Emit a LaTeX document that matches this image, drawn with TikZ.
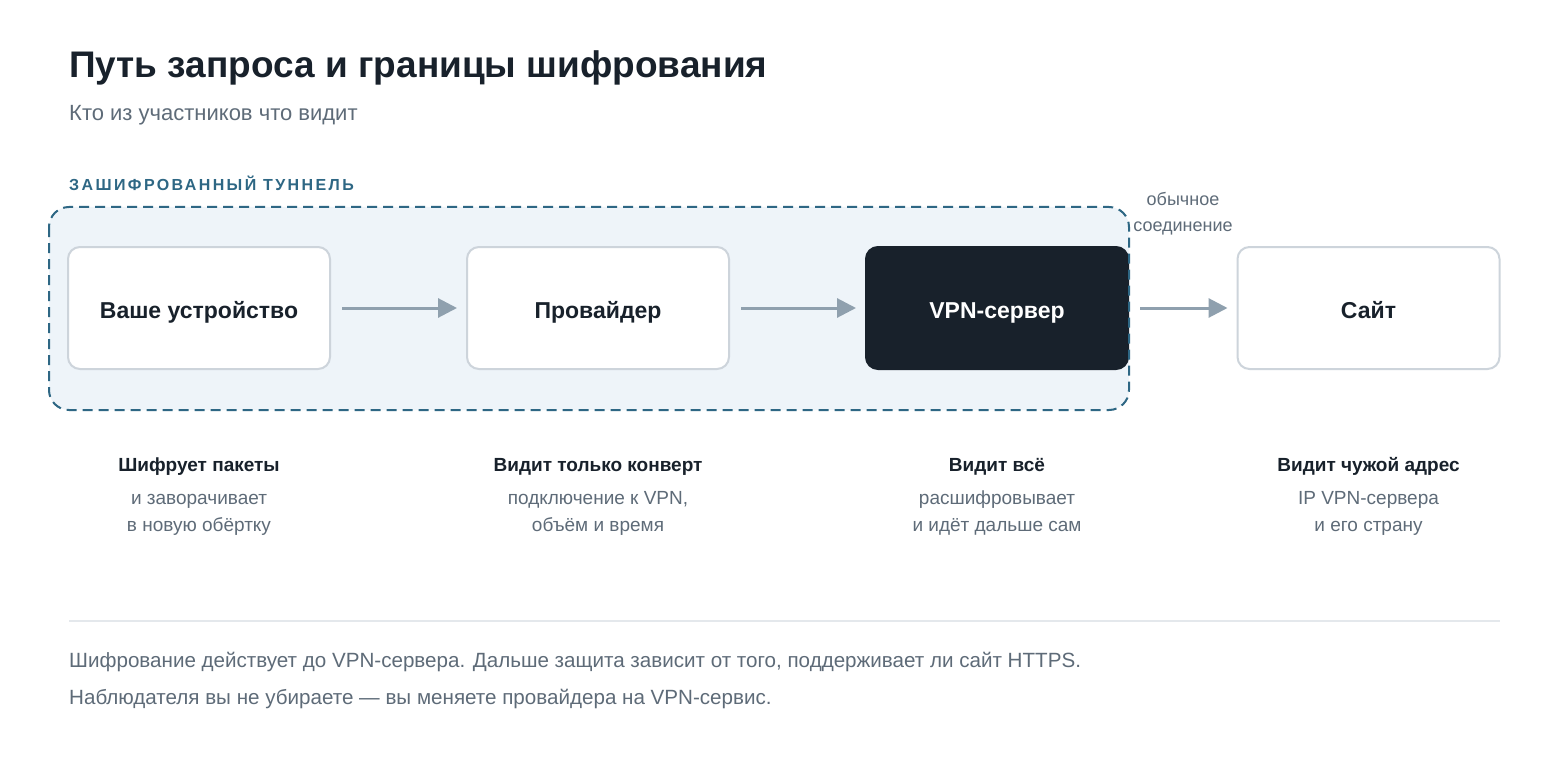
\documentclass[tikz,border=0pt]{standalone}
\usepackage{fontspec}
\setmainfont{Liberation Sans}
\newfontfamily\spacedfont[LetterSpace=15]{Liberation Sans}
\usetikzlibrary{arrows.meta}
\definecolor{ink}{HTML}{18212B}
\definecolor{muted}{HTML}{5E6B78}
\definecolor{tealc}{HTML}{2E6784}
\definecolor{tunnelfill}{HTML}{EEF4F9}
\definecolor{boxline}{HTML}{CDD4DB}
\definecolor{arrowc}{HTML}{8FA0AE}
\definecolor{divider}{HTML}{E4E8EC}
\tikzset{
  stepbox/.style={draw=boxline, line width=2pt, fill=white, rounded corners=12pt,
    minimum width=262pt, minimum height=122pt, inner sep=0pt,
    text height=20pt, text depth=0pt,
    font=\fontsize{23}{27}\selectfont\bfseries, text=ink},
  darkbox/.style={stepbox, fill=ink, draw=ink, text=white},
  flow/.style={draw=arrowc, line width=3pt, -{Triangle[length=19pt,width=19pt]},
    shorten <=11pt, shorten >=9pt},
  capbold/.style={anchor=base, font=\fontsize{19}{23}\selectfont\bfseries, text=ink, inner sep=0pt},
  capgray/.style={anchor=base, font=\fontsize{19}{23}\selectfont, text=muted, inner sep=0pt},
  foot/.style={anchor=base west, font=\fontsize{20.6}{24}\selectfont, text=muted, inner sep=0pt},
  plainlbl/.style={anchor=base, inner sep=0pt, font=\fontsize{18}{21}\selectfont, text=muted},
}
\begin{document}
\begin{tikzpicture}[x=1pt,y=-1pt]
\useasboundingbox[fill=white] (0,0) rectangle (1568,770);

% title
\node[anchor=base west, inner sep=0pt, font=\fontsize{37}{42}\selectfont\bfseries, text=ink] (title) at (69,78) {Путь запроса и границы шифрования};
\node[anchor=base west, inner sep=0pt, font=\fontsize{22}{26}\selectfont, text=muted] (subtitle) at (69,121) {Кто из участников что видит};

% tunnel label
\node[anchor=base west, inner sep=0pt, font=\fontsize{16}{19}\spacedfont\bfseries, text=tealc] (tlabel) at (69,190) {ЗАШИФРОВАННЫЙ ТУННЕЛЬ};

% tunnel fill
\path[fill=tunnelfill, rounded corners=20pt] (49,207) rectangle (1129,410);

% boxes
\node[stepbox] (dev) at (199,308) {Ваше устройство};
\node[stepbox] (isp) at (598,308) {Провайдер};
\node[darkbox] (vpn) at (997,308) {VPN-сервер};
\node[stepbox] (site) at (1368.5,308) {Сайт};

% tunnel border
\draw[draw=tealc, line width=2pt, dash pattern=on 10pt off 6pt, rounded corners=20pt] (49,207) rectangle (1129,410);

% arrows
\draw[flow] (dev.east) -- (isp.west);
\draw[flow] (isp.east) -- (vpn.west);
\draw[flow] (vpn.east) -- (site.west);

% plain connection label
\node[plainlbl] (plain1) at (1183,206) {обычное};
\node[plainlbl] (plain2) at (1183,231) {соединение};

% captions
\node[capbold] (c1a) at (199,471) {Шифрует пакеты};
\node[capgray] (c1b) at (199,504) {и заворачивает};
\node[capgray] (c1c) at (199,531) {в новую обёртку};

\node[capbold] (c2a) at (598,471) {Видит только конверт};
\node[capgray] (c2b) at (598,504) {подключение к VPN,};
\node[capgray] (c2c) at (598,531) {объём и время};

\node[capbold] (c3a) at (997,471) {Видит всё};
\node[capgray] (c3b) at (997,504) {расшифровывает};
\node[capgray] (c3c) at (997,531) {и идёт дальше сам};

\node[capbold] (c4a) at (1368.5,471) {Видит чужой адрес};
\node[capgray] (c4b) at (1368.5,504) {IP VPN-сервера};
\node[capgray] (c4c) at (1368.5,531) {и его страну};

% divider
\draw[divider, line width=1.2pt] (69,621) -- (1500,621);

% footer
\node[foot] (f1) at (69,667) {Шифрование действует до VPN-сервера. Дальше защита зависит от того, поддерживает ли сайт HTTPS.};
\node[foot] (f2) at (69,704) {Наблюдателя вы не убираете — вы меняете провайдера на VPN-сервис.};
\end{tikzpicture}
\end{document}
